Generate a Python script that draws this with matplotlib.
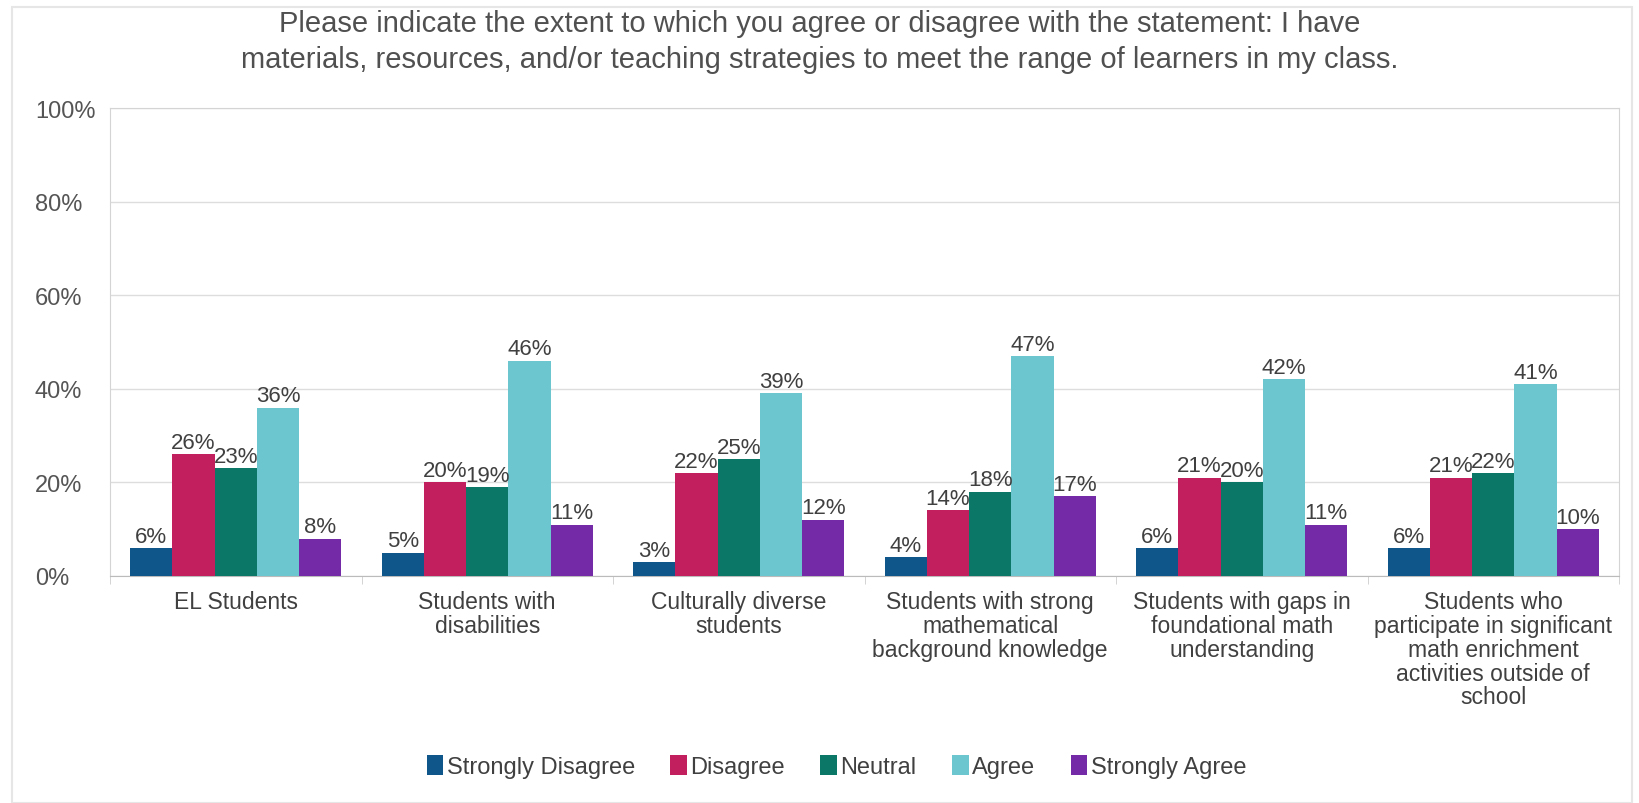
import numpy as np
import matplotlib.pyplot as plt
from matplotlib.patches import Rectangle

# Data
categories = [
    "EL Students",
    "Students with\ndisabilities",
    "Culturally diverse\nstudents",
    "Students with strong\nmathematical\nbackground knowledge",
    "Students with gaps in\nfoundational math\nunderstanding",
    "Students who\nparticipate in significant\nmath enrichment\nactivities outside of\nschool",
]
series = ["Strongly Disagree", "Disagree", "Neutral", "Agree", "Strongly Agree"]
strongly_disagree = [6, 5, 3, 4, 6, 6]
disagree = [26, 20, 22, 14, 21, 21]
neutral = [23, 19, 25, 18, 20, 22]
agree = [36, 46, 39, 47, 42, 41]
strongly_agree = [8, 11, 12, 17, 11, 10]
values = [strongly_disagree, disagree, neutral, agree, strongly_agree]
colors = ["#0f568a", "#c21f5f", "#0b7766", "#6cc6cf", "#7429a6"]

title = ("Please indicate the extent to which you agree or disagree with the statement: I have\n"
         "materials, resources, and/or teaching strategies to meet the range of learners in my class.")

plt.rcParams['font.family'] = ['Liberation Sans', 'DejaVu Sans']

fig = plt.figure(figsize=(16.4, 8.04), dpi=100)
ax = fig.add_axes([110 / 1640, 1 - 577 / 804, 1509 / 1640, 468 / 804])

# faint outer frame
fig.patches.append(Rectangle((12 / 1640, 0), 1620 / 1640, 796 / 804, transform=fig.transFigure,
                             fill=False, edgecolor='#e6e6e6', linewidth=1.5))

x = np.arange(len(categories))
w = 0.168
for i, (name, vals) in enumerate(zip(series, values)):
    pos = x + (i - 2) * w
    bars = ax.bar(pos, vals, width=w, color=colors[i], label=name, zorder=3)
    for b, v in zip(bars, vals):
        ax.text(b.get_x() + b.get_width() / 2, v + 0.3, f"{v}%", ha='center', va='bottom',
                fontsize=16, color='#404040', zorder=4)

ax.set_xlim(-0.5, len(categories) - 0.5)
ax.set_ylim(0, 100)
ax.set_yticks(range(0, 101, 20))
ax.set_yticklabels([f"{t}%" for t in range(0, 101, 20)], fontsize=17, color='#555555', ha='left')
ax.set_xticks(x)
ax.set_xticklabels(categories, fontsize=16.5, color='#404040', linespacing=1.05)
ax.set_xticks(np.arange(-0.5, len(categories), 1), minor=True)
ax.tick_params(axis='x', which='major', length=0, pad=10)
ax.tick_params(axis='x', which='minor', length=6, color='#cccccc')
ax.tick_params(axis='y', length=0, pad=54)
ax.grid(axis='y', color='#dddddd', linewidth=1, zorder=0)
for s in ax.spines.values():
    s.set_color('#d4d4d4')
ax.spines['bottom'].set_color('#bbbbbb')

fig.text(0.5, 0.987, title, ha='center', va='top', fontsize=21, color='#505050', linespacing=1.35)

fig.legend(loc='center', bbox_to_anchor=(0.51, 0.045), ncol=5, frameon=False, fontsize=17,
           handlelength=0.7, handleheight=0.9, handletextpad=0.15, columnspacing=1.5,
           labelcolor='#404040')

fig.savefig("out.png", dpi=100, facecolor='white')
